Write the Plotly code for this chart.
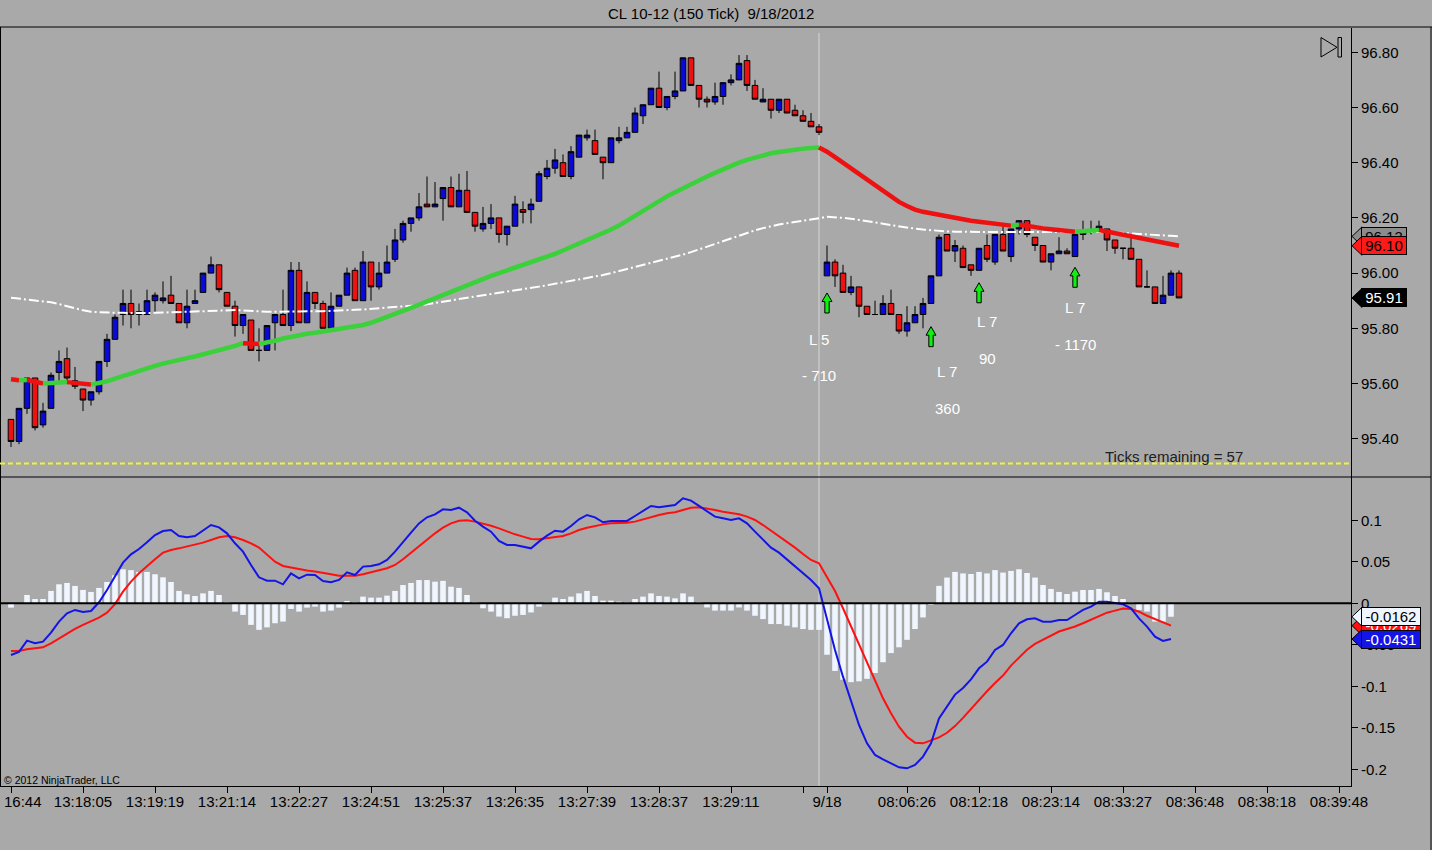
import plotly.graph_objects as go

# --- price bars (150 tick), index 0..146 ---
opens = [95.47, 95.39, 95.51, 95.62, 95.45, 95.51, 95.64, 95.69, 95.61, 95.58,
         95.54, 95.57, 95.68, 95.76, 95.85, 95.89, 95.85, 95.85, 95.90, 95.90,
         95.92, 95.89, 95.82, 95.89, 95.93, 96.00, 96.03, 95.93, 95.88, 95.81,
         95.83, 95.72, 95.72, 95.82, 95.85, 95.81, 96.01, 95.82, 95.93, 95.89,
         95.80, 95.88, 95.92, 96.01, 95.90, 96.04, 95.95, 96.00, 96.05, 96.12,
         96.18, 96.20, 96.25, 96.24, 96.27, 96.31, 96.24, 96.30, 96.22, 96.16,
         96.18, 96.20, 96.14, 96.17, 96.23, 96.23, 96.26, 96.35, 96.38, 96.40,
         96.35, 96.42, 96.49, 96.48, 96.42, 96.40, 96.48, 96.49, 96.51, 96.57,
         96.61, 96.67, 96.60, 96.64, 96.66, 96.78, 96.68, 96.63, 96.62, 96.64,
         96.69, 96.70, 96.77, 96.68, 96.62, 96.63, 96.59, 96.63, 96.59, 96.57,
         96.55, 96.53, 95.99, 96.04, 96.00, 95.93, 95.95, 95.88, 95.85, 95.85,
         95.89, 95.85, 95.79, 95.82, 95.85, 95.89, 95.99, 96.14, 96.08, 96.09,
         96.03, 96.01, 96.10, 96.04, 96.14, 96.06, 96.16, 96.19, 96.13, 96.10,
         96.04, 96.07, 96.08, 96.06, 96.14, 96.15, 96.16, 96.16, 96.12, 96.09,
         96.09, 96.05, 95.95, 95.95, 95.89, 95.92, 96.00]
highs = [95.47, 95.51, 95.62, 95.62, 95.53, 95.64, 95.72, 95.73, 95.66, 95.58,
         95.57, 95.68, 95.78, 95.85, 95.94, 95.94, 95.89, 95.94, 95.93, 95.97,
         95.99, 95.89, 95.94, 95.94, 96.00, 96.06, 96.03, 95.93, 95.90, 95.85,
         95.83, 95.80, 95.81, 95.85, 95.94, 96.04, 96.04, 95.97, 95.93, 95.90,
         95.93, 95.92, 96.02, 96.02, 96.08, 96.04, 96.04, 96.10, 96.16, 96.19,
         96.20, 96.29, 96.35, 96.33, 96.31, 96.35, 96.36, 96.37, 96.22, 96.24,
         96.25, 96.20, 96.17, 96.28, 96.26, 96.27, 96.37, 96.41, 96.45, 96.43,
         96.46, 96.50, 96.52, 96.52, 96.42, 96.49, 96.53, 96.53, 96.60, 96.61,
         96.67, 96.73, 96.64, 96.73, 96.78, 96.78, 96.68, 96.64, 96.69, 96.69,
         96.72, 96.79, 96.79, 96.70, 96.67, 96.63, 96.63, 96.63, 96.61, 96.59,
         96.58, 96.54, 96.10, 96.05, 96.03, 95.99, 95.95, 95.88, 95.90, 95.92,
         95.94, 95.85, 95.88, 95.88, 95.91, 95.99, 96.14, 96.14, 96.12, 96.10,
         96.03, 96.09, 96.14, 96.14, 96.17, 96.16, 96.19, 96.19, 96.13, 96.10,
         96.07, 96.13, 96.09, 96.14, 96.19, 96.19, 96.19, 96.16, 96.12, 96.09,
         96.13, 96.05, 96.01, 95.95, 95.99, 96.01, 96.01]
lows = [95.37, 95.38, 95.49, 95.43, 95.44, 95.51, 95.61, 95.61, 95.58, 95.50,
        95.52, 95.56, 95.66, 95.76, 95.81, 95.80, 95.81, 95.85, 95.86, 95.89,
        95.89, 95.82, 95.80, 95.89, 95.93, 96.00, 95.93, 95.88, 95.77, 95.78,
        95.72, 95.68, 95.72, 95.72, 95.81, 95.79, 95.82, 95.82, 95.87, 95.80,
        95.80, 95.88, 95.92, 95.90, 95.90, 95.90, 95.94, 96.00, 96.04, 96.11,
        96.15, 96.19, 96.24, 96.24, 96.19, 96.24, 96.24, 96.22, 96.15, 96.15,
        96.16, 96.11, 96.10, 96.17, 96.18, 96.18, 96.26, 96.34, 96.36, 96.35,
        96.34, 96.42, 96.48, 96.43, 96.34, 96.40, 96.47, 96.49, 96.51, 96.54,
        96.61, 96.60, 96.59, 96.63, 96.66, 96.68, 96.60, 96.60, 96.61, 96.61,
        96.68, 96.70, 96.66, 96.63, 96.62, 96.56, 96.58, 96.58, 96.57, 96.55,
        96.53, 96.50, 95.99, 95.95, 95.93, 95.92, 95.84, 95.85, 95.85, 95.85,
        95.85, 95.78, 95.77, 95.82, 95.80, 95.89, 95.99, 96.08, 96.04, 96.02,
        95.99, 96.01, 96.04, 96.03, 96.08, 96.04, 96.14, 96.13, 96.08, 96.04,
        96.01, 96.07, 96.07, 96.06, 96.12, 96.14, 96.16, 96.08, 96.07, 96.05,
        96.05, 95.95, 95.95, 95.89, 95.89, 95.92, 95.91]
closes = [95.39, 95.51, 95.62, 95.44, 95.50, 95.63, 95.68, 95.62, 95.59, 95.54,
          95.57, 95.68, 95.76, 95.84, 95.89, 95.85, 95.86, 95.90, 95.92, 95.91,
          95.89, 95.82, 95.88, 95.90, 96.00, 96.03, 95.94, 95.88, 95.81, 95.85,
          95.72, 95.72, 95.81, 95.85, 95.81, 96.01, 95.82, 95.93, 95.89, 95.80,
          95.88, 95.92, 96.00, 95.90, 96.04, 95.95, 96.00, 96.04, 96.12, 96.18,
          96.20, 96.24, 96.24, 96.25, 96.31, 96.24, 96.30, 96.22, 96.17, 96.18,
          96.20, 96.14, 96.17, 96.25, 96.22, 96.25, 96.36, 96.38, 96.41, 96.35,
          96.44, 96.50, 96.50, 96.43, 96.40, 96.49, 96.49, 96.51, 96.58, 96.61,
          96.67, 96.60, 96.64, 96.66, 96.78, 96.68, 96.63, 96.62, 96.64, 96.69,
          96.70, 96.76, 96.68, 96.63, 96.63, 96.59, 96.63, 96.58, 96.57, 96.55,
          96.53, 96.51, 96.04, 95.99, 95.93, 95.95, 95.88, 95.85, 95.85, 95.89,
          95.85, 95.79, 95.82, 95.85, 95.89, 95.99, 96.13, 96.08, 96.10, 96.02,
          96.01, 96.09, 96.05, 96.14, 96.08, 96.16, 96.19, 96.14, 96.10, 96.04,
          96.07, 96.08, 96.07, 96.14, 96.15, 96.15, 96.17, 96.12, 96.09, 96.09,
          96.05, 95.95, 95.95, 95.89, 95.92, 96.00, 95.91]

# fast moving average (thick, coloured by slope)
ma_fast = [95.615, 95.612, 95.613, 95.606, 95.600, 95.601, 95.603, 95.605, 95.602, 95.598,
           95.596, 95.600, 95.608, 95.618, 95.628, 95.638, 95.648, 95.656, 95.664, 95.672,
           95.680, 95.686, 95.692, 95.698, 95.705, 95.712, 95.720, 95.728, 95.736, 95.746,
           95.745, 95.743, 95.748, 95.755, 95.763, 95.770, 95.776, 95.780, 95.784, 95.788,
           95.792, 95.796, 95.800, 95.805, 95.812, 95.820, 95.830, 95.840, 95.850, 95.862,
           95.874, 95.886, 95.898, 95.910, 95.922, 95.934, 95.946, 95.958, 95.970, 95.980,
           95.990, 96.000, 96.010, 96.019, 96.028, 96.037, 96.046, 96.058, 96.070, 96.082,
           96.094, 96.106, 96.118, 96.131, 96.145, 96.158, 96.172, 96.190, 96.208, 96.226,
           96.244, 96.262, 96.278, 96.293, 96.308, 96.322, 96.336, 96.350, 96.363, 96.376,
           96.388, 96.400, 96.410, 96.419, 96.427, 96.434, 96.439, 96.444, 96.448, 96.451,
           96.453, 96.455, 96.440, 96.420, 96.400, 96.380, 96.358, 96.337, 96.317, 96.297,
           96.277, 96.258, 96.243, 96.230, 96.222, 96.216, 96.210, 96.205, 96.200, 96.195,
           96.190, 96.186, 96.182, 96.178, 96.175, 96.172, 96.176, 96.170, 96.166, 96.162,
           96.159, 96.156, 96.153, 96.150, 96.152, 96.154, 96.156, 96.150, 96.145, 96.140,
           96.136, 96.130, 96.124, 96.117, 96.110, 96.104, 96.099]

# slow moving average (white dash-dot)
ma_slow = [95.911, 95.908, 95.905, 95.902, 95.898, 95.894, 95.888, 95.880, 95.872, 95.865,
           95.860, 95.858, 95.857, 95.856, 95.856, 95.855, 95.854, 95.855, 95.856, 95.857,
           95.858, 95.858, 95.859, 95.860, 95.861, 95.863, 95.865, 95.866, 95.866, 95.865,
           95.863, 95.861, 95.860, 95.860, 95.860, 95.861, 95.861, 95.860, 95.861, 95.862,
           95.863, 95.865, 95.866, 95.867, 95.868, 95.870, 95.872, 95.875, 95.878, 95.880,
           95.882, 95.884, 95.887, 95.891, 95.896, 95.901, 95.906, 95.911, 95.916, 95.921,
           95.925, 95.929, 95.933, 95.937, 95.941, 95.946, 95.951, 95.956, 95.961, 95.966,
           95.971, 95.976, 95.981, 95.987, 95.993, 96.000, 96.007, 96.014, 96.021, 96.029,
           96.037, 96.045, 96.052, 96.058, 96.067, 96.076, 96.086, 96.096, 96.106, 96.116,
           96.126, 96.136, 96.146, 96.155, 96.163, 96.170, 96.176, 96.181, 96.185, 96.190,
           96.195, 96.199, 96.204, 96.203, 96.200, 96.197, 96.193, 96.189, 96.184, 96.179,
           96.174, 96.169, 96.165, 96.161, 96.158, 96.155, 96.153, 96.151, 96.150, 96.149,
           96.149, 96.149, 96.149, 96.149, 96.149, 96.150, 96.150, 96.150, 96.150, 96.150,
           96.150, 96.150, 96.150, 96.150, 96.150, 96.150, 96.150, 96.149, 96.147, 96.146,
           96.144, 96.142, 96.140, 96.139, 96.137, 96.135, 96.133]

alert_level = 95.31

# MACD panel, bars 0..145
macd = [-0.0623, -0.0585, -0.0450, -0.0482, -0.0462, -0.0353, -0.0221, -0.0121, -0.0080, -0.0104,
        -0.0092, 0.0012, 0.0160, 0.0321, 0.0490, 0.0590, 0.0654, 0.0735, 0.0823, 0.0871,
        0.0883, 0.0811, 0.0795, 0.0811, 0.0875, 0.0943, 0.0915, 0.0843, 0.0723, 0.0622,
        0.0462, 0.0313, 0.0273, 0.0273, 0.0229, 0.0361, 0.0301, 0.0345, 0.0341, 0.0269,
        0.0253, 0.0281, 0.0373, 0.0341, 0.0442, 0.0450, 0.0470, 0.0522, 0.0622, 0.0743,
        0.0851, 0.0963, 0.1036, 0.1072, 0.1132, 0.1124, 0.1152, 0.1095, 0.0995, 0.0924,
        0.0863, 0.0751, 0.0703, 0.0703, 0.0683, 0.0662, 0.0743, 0.0815, 0.0875, 0.0863,
        0.0931, 0.1012, 0.1064, 0.1036, 0.0976, 0.0992, 0.0992, 0.0992, 0.1052, 0.1112,
        0.1173, 0.1156, 0.1173, 0.1185, 0.1265, 0.1237, 0.1173, 0.1104, 0.1044, 0.1024,
        0.1004, 0.1024, 0.0963, 0.0863, 0.0771, 0.0671, 0.0610, 0.0530, 0.0450, 0.0369,
        0.0281, 0.0181, -0.0201, -0.0562, -0.0884, -0.1185, -0.1466, -0.1687, -0.1827, -0.1880,
        -0.1928, -0.1976, -0.1988, -0.1948, -0.1847, -0.1687, -0.1386, -0.1250, -0.1100, -0.1020,
        -0.0916, -0.0783, -0.0703, -0.0562, -0.0502, -0.0361, -0.0241, -0.0193, -0.0181, -0.0221,
        -0.0221, -0.0201, -0.0201, -0.0141, -0.0080, -0.0040, 0.0020, 0.0020, 0.0000, -0.0012,
        -0.0060, -0.0181, -0.0281, -0.0402, -0.0454, -0.0431]
signal = [-0.0575, -0.0575, -0.0555, -0.0543, -0.0530, -0.0482, -0.0422, -0.0361, -0.0309, -0.0261,
          -0.0221, -0.0173, -0.0112, -0.0010, 0.0140, 0.0261, 0.0361, 0.0450, 0.0530, 0.0610,
          0.0642, 0.0662, 0.0683, 0.0703, 0.0731, 0.0763, 0.0795, 0.0811, 0.0795, 0.0763,
          0.0723, 0.0671, 0.0582, 0.0502, 0.0450, 0.0430, 0.0410, 0.0394, 0.0382, 0.0369,
          0.0349, 0.0333, 0.0329, 0.0333, 0.0349, 0.0373, 0.0394, 0.0422, 0.0462, 0.0530,
          0.0610, 0.0691, 0.0771, 0.0843, 0.0911, 0.0963, 0.0995, 0.1000, 0.0984, 0.0963,
          0.0935, 0.0903, 0.0863, 0.0831, 0.0803, 0.0775, 0.0771, 0.0783, 0.0795, 0.0811,
          0.0843, 0.0883, 0.0911, 0.0935, 0.0951, 0.0963, 0.0963, 0.0971, 0.0984, 0.1012,
          0.1044, 0.1064, 0.1084, 0.1096, 0.1124, 0.1152, 0.1156, 0.1144, 0.1124, 0.1104,
          0.1092, 0.1072, 0.1044, 0.1004, 0.0943, 0.0875, 0.0815, 0.0743, 0.0671, 0.0594,
          0.0522, 0.0482, 0.0321, 0.0148, -0.0060, -0.0281, -0.0502, -0.0723, -0.0936, -0.1145,
          -0.1325, -0.1486, -0.1607, -0.1679, -0.1687, -0.1655, -0.1615, -0.1560, -0.1480, -0.1380,
          -0.1270, -0.1160, -0.1060, -0.0960, -0.0870, -0.0750, -0.0650, -0.0560, -0.0490, -0.0440,
          -0.0390, -0.0340, -0.0310, -0.0280, -0.0240, -0.0200, -0.0153, -0.0113, -0.0088, -0.0064,
          -0.0070, -0.0101, -0.0150, -0.0190, -0.0234, -0.0269]
hist = [-0.0052, 0.0000, 0.0100, 0.0052, 0.0052, 0.0149, 0.0229, 0.0245, 0.0209, 0.0161,
        0.0137, 0.0185, 0.0257, 0.0337, 0.0410, 0.0400, 0.0378, 0.0378, 0.0350, 0.0313,
        0.0257, 0.0149, 0.0108, 0.0088, 0.0120, 0.0149, 0.0100, 0.0010, -0.0100, -0.0140,
        -0.0260, -0.0320, -0.0290, -0.0240, -0.0220, -0.0068, -0.0100, -0.0052, -0.0040, -0.0100,
        -0.0088, -0.0052, 0.0028, 0.0012, 0.0080, 0.0068, 0.0068, 0.0092, 0.0149, 0.0220,
        0.0245, 0.0280, 0.0280, 0.0260, 0.0270, 0.0200, 0.0185, 0.0100, 0.0010, -0.0060,
        -0.0100, -0.0160, -0.0180, -0.0150, -0.0140, -0.0110, -0.0040, 0.0012, 0.0068, 0.0052,
        0.0080, 0.0120, 0.0149, 0.0088, 0.0032, 0.0032, 0.0020, 0.0012, 0.0052, 0.0080,
        0.0120, 0.0088, 0.0080, 0.0060, 0.0120, 0.0080, 0.0010, -0.0050, -0.0088, -0.0088,
        -0.0088, -0.0050, -0.0088, -0.0150, -0.0190, -0.0250, -0.0250, -0.0270, -0.0290, -0.0310,
        -0.0320, -0.0320, -0.0620, -0.0815, -0.0920, -0.0950, -0.0940, -0.0910, -0.0840, -0.0710,
        -0.0600, -0.0530, -0.0440, -0.0310, -0.0170, -0.0020, 0.0210, 0.0310, 0.0378, 0.0360,
        0.0353, 0.0378, 0.0360, 0.0400, 0.0370, 0.0390, 0.0410, 0.0365, 0.0310, 0.0220,
        0.0173, 0.0137, 0.0112, 0.0140, 0.0160, 0.0160, 0.0173, 0.0133, 0.0088, 0.0052,
        0.0010, -0.0080, -0.0100, -0.0220, -0.0220, -0.0162]

# entry signals
signal_bars = [102, 115, 121, 133]
signal_tips = [95.928, 95.806, 95.965, 96.021]
label_bars = [101, 117, 122, 133]
label_prices = [95.761, 95.645, 95.823, 95.877]
pnl_prices = [95.628, 95.511, 95.689, 95.743]
label_texts = ["L 5", "L 7", "L 7", "L 7"]
pnl_texts = ["- 710", "360", "90", "- 1170"]

session_break = 101
# first label is clipped by the left edge in the source chart, only "16:44" shows
first_tick_text = "16:44"
tick_bars = [0, 9, 18, 27, 36, 45, 54, 63, 72, 81, 90, 99, 102, 112, 121, 130, 139, 148, 157, 166]
tick_labels = ["", "13:18:05", "13:19:19", "13:21:14", "13:22:27", "13:24:51",
               "13:25:37", "13:26:35", "13:27:39", "13:28:37", "13:29:11", "", "9/18",
               "08:06:26", "08:12:18", "08:23:14", "08:33:27", "08:36:48", "08:38:18", "08:39:48"]
price_ticks = [95.40, 95.60, 95.80, 96.00, 96.20, 96.40, 96.60, 96.80]
macd_ticks = [-0.2, -0.15, -0.1, -0.05, 0, 0.05, 0.1]
macd_tick_labels = ["-0.2", "-0.15", "-0.1", "-0.05", "0", "0.05", "0.1"]

FONT = "Liberation Sans, Arial, sans-serif"
BG = "#a9a9a9"
BLUE = "#0a0ad2"
RED = "#ee1111"
GREEN = "#3ad13a"

# pixel geometry of the plot area (plot area is 1351 x 758, top at y=28)
PW, PH, PTOP = 1351.0, 758.0, 28.0


def px_x(px):
    return px / PW


def px_y(py):
    return (PTOP + PH - py) / PH


bars = list(range(len(closes)))
mbars = list(range(len(macd)))

fig = go.Figure()

fig.add_trace(go.Candlestick(
    x=bars, open=opens, high=highs, low=lows, close=closes,
    increasing=dict(fillcolor=BLUE, line=dict(color="black", width=1)),
    decreasing=dict(fillcolor=RED, line=dict(color="black", width=1)),
    whiskerwidth=0, hoverinfo="skip", showlegend=False,
    xaxis="x", yaxis="y",
))

# slow average
fig.add_trace(go.Scatter(
    x=bars, y=ma_slow, mode="lines",
    line=dict(color="white", width=2, dash="10px,3px,2px,3px"),
    hoverinfo="skip", showlegend=False, xaxis="x", yaxis="y",
))

# fast average, split into rising (green) / falling (red) runs
start = 0
rising = ma_fast[1] >= ma_fast[0]
runs = []
for k in range(1, len(ma_fast) - 1):
    nxt = ma_fast[k + 1] >= ma_fast[k]
    if nxt != rising:
        runs.append((start, k, rising))
        start, rising = k, nxt
runs.append((start, len(ma_fast) - 1, rising))
for s, e, up in runs:
    fig.add_trace(go.Scatter(
        x=bars[s:e + 1], y=ma_fast[s:e + 1], mode="lines",
        line=dict(color=GREEN if up else RED, width=4.5),
        hoverinfo="skip", showlegend=False, xaxis="x", yaxis="y",
    ))

# entry arrows (block arrows drawn as polygons around each tip)
head_h, total_h = 0.031, 0.0725
ax, ay = [], []
for b, tip in zip(signal_bars, signal_tips):
    pts = [(0, 0), (0.62, -head_h), (0.27, -head_h), (0.27, -total_h),
           (-0.27, -total_h), (-0.27, -head_h), (-0.62, -head_h), (0, 0)]
    ax += [b + dx for dx, _ in pts] + [None]
    ay += [tip + dy for _, dy in pts] + [None]
fig.add_trace(go.Scatter(
    x=ax, y=ay, mode="lines", fill="toself", fillcolor="#11ee11",
    line=dict(color="black", width=1), hoverinfo="skip", showlegend=False,
    xaxis="x", yaxis="y",
))

# MACD panel
fig.add_trace(go.Bar(
    x=mbars, y=hist, width=0.7, marker=dict(color="#f0f6ff", line=dict(width=0)),
    hoverinfo="skip", showlegend=False, xaxis="x2", yaxis="y2",
))
fig.add_trace(go.Scatter(
    x=mbars, y=signal, mode="lines", line=dict(color="#ff1010", width=2),
    hoverinfo="skip", showlegend=False, xaxis="x2", yaxis="y2",
))
fig.add_trace(go.Scatter(
    x=mbars, y=macd, mode="lines", line=dict(color="#1414e6", width=2),
    hoverinfo="skip", showlegend=False, xaxis="x2", yaxis="y2",
))

x_lo = -11 / 8.0
x_hi = (PW - 11) / 8.0
price_lo = 96.80 - (477 - 52.3) / 276.0
price_hi = 96.80 + (52.3 - PTOP) / 276.0
macd_lo = (603.3 - 786) / 830.0
macd_hi = (603.3 - 477) / 830.0
split = px_y(477)

tick_font = dict(family=FONT, size=15, color="black")

fig.update_layout(
    width=1432, height=850,
    paper_bgcolor=BG, plot_bgcolor=BG,
    margin=dict(l=0, r=1432 - PW, t=PTOP, b=850 - PTOP - PH, autoexpand=False),
    showlegend=False,
    boxgap=0.3, boxgroupgap=0,
    font=dict(family=FONT, size=15, color="black"),
    xaxis=dict(domain=[0, 1], range=[x_lo, x_hi], anchor="y", showticklabels=False,
               showgrid=False, zeroline=False, showline=False, ticks="", automargin=False,
               rangeslider=dict(visible=False)),
    xaxis2=dict(domain=[0, 1], range=[x_lo, x_hi], anchor="y2", matches="x",
                tickmode="array", tickvals=tick_bars, ticktext=tick_labels,
                ticks="outside", ticklen=6, tickcolor="black", tickwidth=1,
                ticklabelstandoff=-4,
                showline=True, linecolor="black", linewidth=1, automargin=False,
                showgrid=False, zeroline=False, tickfont=tick_font),
    yaxis=dict(domain=[split, 1], range=[price_lo, price_hi], anchor="x", side="right",
               tickmode="array", tickvals=price_ticks,
               ticktext=["%.2f" % v for v in price_ticks], automargin=False,
               ticks="outside", ticklen=6, tickcolor="black",
               showline=True, linecolor="black", linewidth=1,
               showgrid=False, zeroline=False, tickfont=tick_font),
    yaxis2=dict(domain=[0, split], range=[macd_lo, macd_hi], anchor="x2", side="right",
                tickmode="array", tickvals=macd_ticks, ticktext=macd_tick_labels,
                ticks="outside", ticklen=6, tickcolor="black", automargin=False,
                showline=True, linecolor="black", linewidth=1,
                showgrid=False, zeroline=False, tickfont=tick_font),
)

shapes = [
    # frame
    dict(type="line", xref="paper", yref="paper", x0=0, x1=px_x(1432), y0=px_y(27), y1=px_y(27),
         line=dict(color="black", width=1)),
    dict(type="line", xref="paper", yref="paper", x0=px_x(1431), x1=px_x(1431), y0=px_y(27), y1=px_y(850),
         line=dict(color="black", width=1)),
    dict(type="line", xref="paper", yref="paper", x0=px_x(0.5), x1=px_x(0.5), y0=0, y1=px_y(27),
         line=dict(color="black", width=1)),
    dict(type="line", xref="paper", yref="paper", x0=0, x1=px_x(1431), y0=split, y1=split,
         line=dict(color="black", width=1)),
    # session break
    dict(type="line", xref="x", yref="paper", x0=session_break, x1=session_break, y0=0, y1=px_y(33),
         line=dict(color="#d6d6d6", width=1), layer="below"),
    # alert line
    dict(type="line", xref="paper", yref="y", x0=0, x1=1, y0=alert_level, y1=alert_level,
         line=dict(color="#f2f23a", width=2, dash="5px,3px")),
    # MACD zero line
    dict(type="line", xref="paper", yref="y2", x0=0, x1=1, y0=0, y1=0,
         line=dict(color="black", width=2)),
    # "go to last bar" glyph
    dict(type="path", xref="paper", yref="paper",
         path="M %f,%f L %f,%f L %f,%f Z" % (px_x(1321), px_y(37.5), px_x(1337), px_y(47.3),
                                              px_x(1321), px_y(57)),
         line=dict(color="black", width=1)),
    dict(type="rect", xref="paper", yref="paper", x0=px_x(1338), x1=px_x(1341.5),
         y0=px_y(57), y1=px_y(37.5), line=dict(color="black", width=1)),
]

annotations = [
    dict(text="CL 10-12 (150 Tick)  9/18/2012", xref="paper", yref="paper",
         x=px_x(711), y=px_y(13), yanchor="middle", showarrow=False, font=dict(size=15)),
    dict(text="Ticks remaining = 57", xref="paper", yref="paper",
         x=px_x(1245), y=px_y(456), yanchor="middle", showarrow=False,
         font=dict(size=15, color="#202020")),
    dict(text="\u00a9 2012 NinjaTrader, LLC", xref="paper", yref="paper",
         x=px_x(2), y=px_y(779.5), xanchor="left", yanchor="middle", showarrow=False,
         font=dict(size=10.5)),
    dict(text=first_tick_text, xref="paper", yref="paper",
         x=px_x(2), y=px_y(801), xanchor="left", yanchor="middle", showarrow=False,
         font=tick_font),
]

for b, p, t in zip(label_bars, label_prices, label_texts):
    annotations.append(dict(text=t, x=b, y=p, xref="x", yref="y", showarrow=False,
                            font=dict(size=15, color="white")))
for b, p, t in zip(label_bars, pnl_prices, pnl_texts):
    annotations.append(dict(text=t, x=b, y=p, xref="x", yref="y", showarrow=False,
                            font=dict(size=15, color="white")))


def add_tag(value, text, bg, fg, yref, unit_px, box_w):
    half = 9.5 / unit_px
    shapes.append(dict(type="path", xref="paper", yref=yref,
                       path="M %f,%f L %f,%f L %f,%f Z" % (px_x(1352), value, px_x(1362), value + half,
                                                           px_x(1362), value - half),
                       fillcolor=bg, line=dict(color="black", width=1)))
    annotations.append(dict(text=text, xref="paper", yref=yref, x=px_x(1361), y=value,
                            xanchor="left", yanchor="middle", showarrow=False, bgcolor=bg,
                            bordercolor="black", borderwidth=1, borderpad=0, width=box_w, height=17,
                            font=dict(size=15, color=fg)))


add_tag(ma_slow[-1], "%.2f" % ma_slow[-1], "#8c8c8c", "black", "y", 276.0, 44)
add_tag(ma_fast[-1], "%.2f" % ma_fast[-1], "#ff1a1a", "black", "y", 276.0, 44)
add_tag(closes[-1], "%.2f" % closes[-1], "black", "white", "y", 276.0, 44)
add_tag(signal[-1], "%.4f" % signal[-1], "#ff1010", "white", "y2", 830.0, 58)
add_tag(hist[-1], "%.4f" % hist[-1], "#f0f6ff", "black", "y2", 830.0, 58)
add_tag(macd[-1], "%.4f" % macd[-1], "#1414e6", "white", "y2", 830.0, 58)

fig.update_layout(shapes=shapes, annotations=annotations)

fig.write_html("out.html", config={"displayModeBar": False},
               post_script="document.body.style.margin='0';")
